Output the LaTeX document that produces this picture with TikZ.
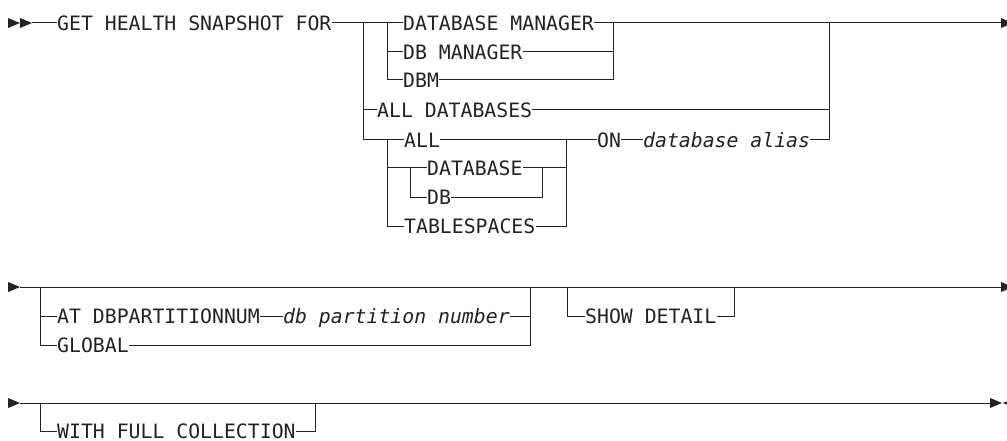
\documentclass[tikz,border=0pt]{standalone}
\usepackage{fontspec}
\usepackage{tikz}
\usetikzlibrary{positioning}
\newfontfamily\railfont{DejaVu Sans Mono}
\definecolor{ink}{HTML}{222222}

\begin{document}
\begin{tikzpicture}[
    x=1pt, y=-1pt,
    rail/.style={line width=1pt, draw=ink},
    kw/.style={font=\railfont\fontsize{19.8pt}{22pt}\selectfont, text=ink,
               inner sep=0pt, text height=14.4pt, text depth=0pt,
               anchor=west},
    var/.style={kw, font=\railfont\fontsize{19.8pt}{22pt}\selectfont\itshape},
    head/.pic={\fill[ink] (0,-5) -- (12,0) -- (0,5) -- cycle;},
    back/.pic={\fill[ink] (0,-5) -- (-12,0) -- (0,5) -- cycle;}
]
\useasboundingbox (0,0) rectangle (1007,441);

% Row 1: command and target
\pic at (8,23) {head};
\pic at (20,23) {head};
\coordinate (r1in) at (32,23);
\node[kw] (get) at (57,23) {GET HEALTH SNAPSHOT FOR};
\coordinate (j1) at (363,23);
\coordinate (j2) at (387,23);
\node[kw] (dbmgr) at (403,23) {DATABASE MANAGER};
\node[kw] (dbmanager) at (403,52) {DB MANAGER};
\node[kw] (dbm) at (403,80) {DBM};
\coordinate (k1) at (613,23);
\node[kw] (alldbs) at (377,110) {ALL DATABASES};
\coordinate (j3) at (387,140);
\node[kw] (all) at (404,140) {ALL};
\coordinate (j4) at (410,168);
\node[kw] (database) at (427,168) {DATABASE};
\node[kw] (db) at (427,197) {DB};
\coordinate (k3) at (542,168);
\node[kw] (tblsp) at (404,226) {TABLESPACES};
\coordinate (k2) at (566,140);
\node[kw] (on) at (597,140) {ON};
\node[var] (alias) at (643,140) {database alias};
\coordinate (k0) at (829,23);
\coordinate (r1out) at (1001,23);
\pic at (1001,23) {head};

\draw[rail] (r1in) -- (get.west);
\draw[rail] (get.east) -- (dbmgr.west);
\draw[rail] (dbmgr.east) -- (r1out);
\draw[rail] (j2) |- (dbmanager.west);
\draw[rail] (j2) |- (dbm.west);
\draw[rail] (dbmanager.east) -| (k1);
\draw[rail] (dbm.east) -| (k1);
\draw[rail] (j1) |- (alldbs.west);
\draw[rail] (j1) |- (all.west);
\draw[rail] (alldbs.east) -| (k0);
\draw[rail] (alias.east) -| (k0);
\draw[rail] (all.east) -- (on.west);
\draw[rail] (on.east) -- (alias.west);
\draw[rail] (j3) |- (database.west);
\draw[rail] (j3) |- (tblsp.west);
\draw[rail] (j4) |- (db.west);
\draw[rail] (database.east) -| (k2);
\draw[rail] (db.east) -| (k3);
\draw[rail] (tblsp.east) -| (k2);

% Row 2: partition and detail
\pic at (8,287) {head};
\coordinate (r2in) at (20,287);
\coordinate (j6) at (40,287);
\node[kw] (atdbp) at (57,316) {AT DBPARTITIONNUM};
\node[var] (partnum) at (283,316) {db partition number};
\node[kw] (global) at (57,345) {GLOBAL};
\coordinate (k4) at (530,287);
\coordinate (j7) at (567,287);
\node[kw] (showdet) at (585,316) {SHOW DETAIL};
\coordinate (k5) at (734,287);
\coordinate (r2out) at (1001,287);
\pic at (1001,287) {head};

\draw[rail] (r2in) -- (r2out);
\draw[rail] (j6) |- (atdbp.west);
\draw[rail] (j6) |- (global.west);
\draw[rail] (atdbp.east) -- (partnum.west);
\draw[rail] (partnum.east) -| (k4);
\draw[rail] (global.east) -| (k4);
\draw[rail] (j7) |- (showdet.west);
\draw[rail] (showdet.east) -| (k5);

% Row 3: collection
\pic at (8,403) {head};
\coordinate (r3in) at (20,403);
\coordinate (j8) at (40,403);
\node[kw] (withfull) at (57,431) {WITH FULL COLLECTION};
\coordinate (k6) at (315,403);
\coordinate (r3out) at (990,403);
\pic at (990,403) {head};
\pic at (1015,403) {back};

\draw[rail] (r3in) -- (r3out);
\draw[rail] (j8) |- (withfull.west);
\draw[rail] (withfull.east) -| (k6);

\end{tikzpicture}
\end{document}
